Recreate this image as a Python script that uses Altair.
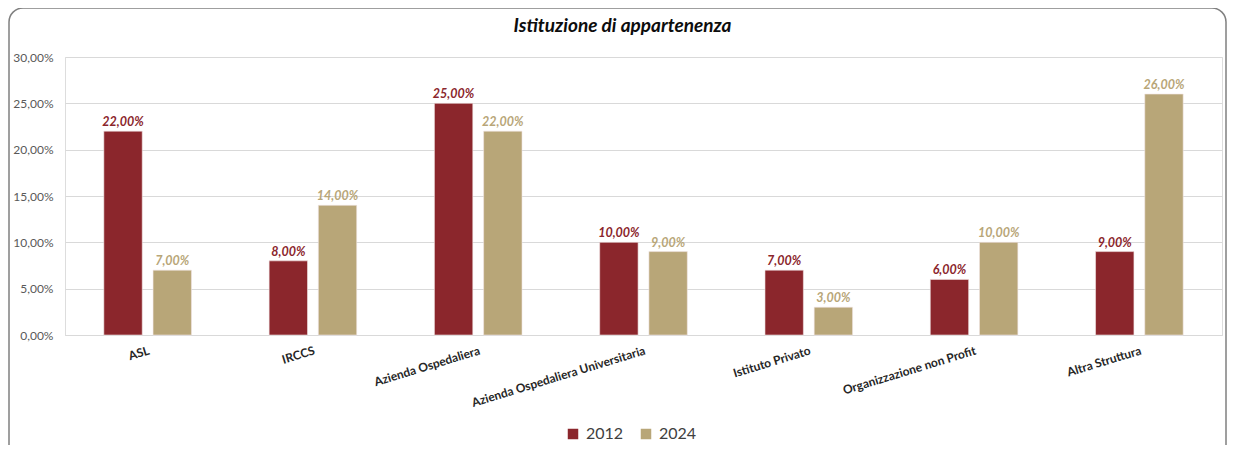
import altair as alt
import pandas as pd

categories = ["ASL", "IRCCS", "Azienda Ospedaliera", "Azienda Ospedaliera Universitaria",
              "Istituto Privato", "Organizzazione non Profit", "Altra Struttura"]
years = ["2012", "2024"]
values_2012 = [0.22, 0.08, 0.25, 0.10, 0.07, 0.06, 0.09]
values_2024 = [0.07, 0.14, 0.22, 0.09, 0.03, 0.10, 0.26]
colors = ["#8B262C", "#B8A678"]

rows = []
for c, a, b in zip(categories, values_2012, values_2024):
    rows.append({"cat": c, "anno": years[0], "val": a})
    rows.append({"cat": c, "anno": years[1], "val": b})
df = pd.DataFrame(rows)

W, H = 1157, 278
FONT = "Lato"

x = alt.X("cat:N", sort=categories, title=None,
          scale=alt.Scale(paddingInner=0.47, paddingOuter=0.235),
          axis=alt.Axis(labelAngle=-17, labelAlign="right", labelBaseline="top",
                        labelPadding=10, labelFont=FONT, labelFontWeight="bold",
                        labelFontSize=12, labelColor="#262626", ticks=False,
                        domain=True, domainColor="#d9d9d9", labelLimit=300))
xoff = alt.XOffset("anno:N", sort=years, scale=alt.Scale(paddingInner=0.22, paddingOuter=0))
col = alt.Color("anno:N", sort=years, scale=alt.Scale(domain=years, range=colors),
                legend=alt.Legend(title=None, orient="none", legendX=500, legendY=369,
                                  direction="horizontal", symbolType="square", symbolSize=110,
                                  symbolStrokeWidth=0, labelFont=FONT, labelFontSize=16,
                                  labelColor="#404040", columnPadding=14, labelOffset=5))

y = alt.Y("val:Q", title=None,
          scale=alt.Scale(domain=[0, 0.30]),
          axis=alt.Axis(values=[0, 0.05, 0.10, 0.15, 0.20, 0.25, 0.30],
                        labelExpr="replace(format(datum.value, '.2%'), '.', ',')",
                        labelFont=FONT, labelFontSize=12, labelColor="#595959",
                        ticks=False, domain=False, grid=True, gridColor="#d9d9d9",
                        gridWidth=1, labelPadding=12))

base = alt.Chart(df)

border = alt.Chart(pd.DataFrame({"k": [0]})).mark_rect(
    fill="transparent", stroke="#808080", strokeWidth=1.5, cornerRadius=14
).encode(x=alt.value(-56), x2=alt.value(W + 4), y=alt.value(-49), y2=alt.value(H + 140))

bars = base.mark_bar(stroke="#f2e6e6", strokeWidth=0.6).encode(x=x, xOffset=xoff, y=y, color=col)

labels = base.mark_text(dy=-9, font=FONT, fontSize=12.5, fontWeight="bold",
                        fontStyle="italic").encode(
    x=alt.X("cat:N", sort=categories), xOffset=alt.XOffset("anno:N", sort=years), y="val:Q",
    color=alt.Color("anno:N", sort=years, legend=None),
    text=alt.Text("lbl:N"),
).transform_calculate(lbl="replace(format(datum.val, '.2%'), '.', ',')")

chart = alt.layer(border, bars, labels).properties(
    width=W, height=H,
    title=alt.TitleParams("Istituzione di appartenenza", font=FONT, fontSize=19,
                          fontWeight="bold", fontStyle="italic", color="#0d0d0d",
                          anchor="middle", dx=-21, offset=-29),
    autosize=alt.AutoSizeParams(type="none"),
    padding={"left": 57, "top": 49, "right": 5, "bottom": 110},
).configure_view(stroke=None).configure(background="white")

chart.save("out.html", embed_options={"renderer": "svg", "actions": False})
